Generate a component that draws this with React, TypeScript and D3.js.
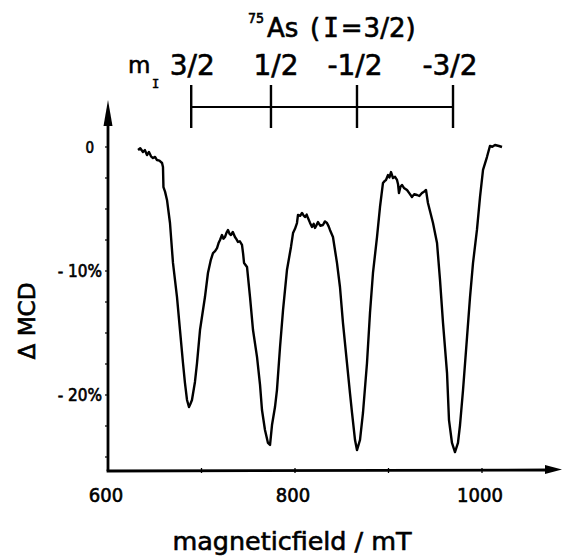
import React from 'react';
import * as d3 from 'd3';

// magnetic field (mT) and ΔMCD (%)
const fieldMT = [
  632.1, 634.5, 637.4, 639.5, 641.7, 643.8, 646.0, 648.1, 650.3, 652.4, 655.0, 657.8, 658.8,
  659.3, 661.0, 663.1, 666.3, 669.5, 673.8, 677.0, 680.2, 682.3, 684.5, 686.6, 688.2, 689.8,
  693.0, 695.2, 698.4, 703.7, 706.9, 710.0, 712.3, 714.5, 716.6, 718.5, 719.8, 721.9, 723.5,
  725.1, 726.8, 728.3, 730.0, 731.5, 733.5, 735.8, 737.5, 739.0, 741.0, 743.3, 744.5, 745.5,
  748.7, 751.9, 755.1, 759.4, 762.6, 764.7, 767.9, 771.1, 773.3, 775.4, 778.6, 780.7, 784.0,
  787.2, 791.4, 795.7, 797.9, 800.0, 802.1, 803.2, 805.5, 807.5, 809.0, 810.7, 812.5, 813.9,
  816.0, 818.2, 820.0, 821.4, 823.0, 824.6, 827.0, 829.9, 832.0, 834.2, 836.0, 837.4, 840.6,
  844.9, 848.1, 851.3, 855.6, 858.8, 861.0, 864.2, 866.3, 869.5, 872.7, 877.0, 880.2, 883.4,
  887.7, 890.9, 894.1, 895.8, 897.3, 899.5, 901.0, 902.7, 904.8, 907.0, 909.1, 910.2, 911.2,
  912.8, 914.4, 916.5, 919.8, 922.0, 925.1, 927.5, 930.5, 933.0, 935.8, 938.0, 940.1, 942.2,
  947.6, 951.9, 955.1, 958.3, 962.6, 964.7, 967.9, 971.1, 974.3, 976.5, 979.7, 984.0, 987.2,
  990.4, 994.6, 997.9, 1001.1, 1005.3, 1008.5, 1011.0, 1013.9, 1016.0, 1018.1, 1021.4,
];

const deltaMCD = [
  -0.24, -0.1, -0.40, -0.25, -0.65, -0.40, -0.75, -0.89, -0.80, -1.05, -1.10, -1.29, -1.61,
  -3.23, -3.60, -4.27, -6.13, -9.35, -12.10, -14.76, -17.42, -19.03, -20.40, -20.97, -20.70, -20.40,
  -18.95, -17.42, -14.76, -12.10, -10.16, -9.10, -8.55, -8.40, -8.15, -7.70, -7.50, -7.10, -7.40,
  -7.26, -6.90, -6.69, -7.00, -7.10, -6.85, -7.26, -7.45, -7.66, -7.60, -7.90, -8.60, -9.35,
  -9.68, -12.10, -14.76, -16.94, -19.19, -21.21, -22.82, -23.87, -24.03, -22.42, -20.97, -19.60, -16.13,
  -13.15, -9.92, -8.06, -6.94, -6.60, -6.13, -5.48, -5.55, -5.32, -5.50, -5.65, -5.45, -5.73,
  -6.10, -6.45, -6.20, -6.53, -6.30, -6.05, -6.35, -6.29, -6.00, -6.13, -6.40, -6.69, -7.26,
  -9.35, -11.29, -14.19, -17.42, -19.84, -21.45, -23.63, -24.44, -23.63, -21.45, -17.42, -13.39, -10.16,
  -7.26, -4.84, -2.90, -2.75, -2.66, -2.26, -2.45, -2.02, -2.50, -2.40, -2.66, -3.00, -3.71,
  -3.20, -3.06, -3.30, -3.47, -3.70, -4.03, -3.80, -3.87, -3.95, -3.71, -3.60, -3.47, -4.52,
  -6.13, -7.74, -10.73, -14.19, -18.23, -22.02, -23.87, -24.60, -23.87, -22.42, -19.60, -15.32, -12.10,
  -9.35, -6.69, -4.03, -1.85, -0.81, 0.08, 0.02, 0.16, 0.12, 0.08, 0.0,
];

const xTicks = [600, 800, 1000];
const xMinorTicks = [700, 800, 900, 1000];
const yTicks = [0, -10, -20];
const yTickLabels = ['0', '- 10%', '- 20%'];
const yMinorTicks = [0, -2.5, -5, -7.5, -10, -12.5, -15, -17.5, -20, -22.5, -25];
const mILabels = ['3/2', '1/2', '-1/2', '-3/2'];
const mIField = [689, 774.3, 866.3, 969];

const FONT = "'DejaVu Sans', 'Liberation Sans', sans-serif";
const FONT_C = "'DejaVu Sans Condensed', 'DejaVu Sans', sans-serif";
const FONT_M = "'DejaVu Sans Mono', monospace";

export default function App() {
  const W = 563;
  const H = 560;
  const x = d3.scaleLinear().domain([600, 1000]).range([108, 482]);
  const y = d3.scaleLinear().domain([0, -20]).range([147, 395]);

  const pts: [number, number][] = fieldMT.map((f, i) => [f, deltaMCD[i]]);
  const line = d3
    .line<[number, number]>()
    .x((d) => x(d[0]))
    .y((d) => y(d[1]))
    .curve(d3.curveLinear);

  const axisX0 = 108;
  const axisY0 = 471;
  const barY = 107;
  const bold = { stroke: '#000', strokeWidth: 0.6 };

  return (
    <svg
      width={W}
      height={H}
      viewBox={`0 0 ${W} ${H}`}
      style={{ position: 'absolute', left: 0, top: 0, background: '#fff' }}
    >
      <rect x={0} y={0} width={W} height={H} fill="#fff" />

      {/* Y axis */}
      <line x1={axisX0} y1={axisY0} x2={axisX0} y2={120} stroke="#000" strokeWidth={2.8} />
      <path d={`M${axisX0},100 L${axisX0 - 4.5},126 L${axisX0 + 4.5},126 Z`} fill="#000" />
      {yMinorTicks.map((t) => (
        <line key={'ym' + t} x1={axisX0 - 3} x2={axisX0} y1={y(t)} y2={y(t)} stroke="#000" strokeWidth={1.2} />
      ))}

      {/* X axis */}
      <line x1={axisX0 - 1.4} y1={axisY0} x2={550} y2={axisY0 - 1} stroke="#000" strokeWidth={2.8} />
      <path d={`M562,${axisY0 - 1.5} L545,${axisY0 - 6} L545,${axisY0 + 3} Z`} fill="#000" />
      {xMinorTicks.map((t) => (
        <line key={'xm' + t} x1={x(t)} x2={x(t)} y1={axisY0 - 3} y2={axisY0 + 2} stroke="#000" strokeWidth={1.3} />
      ))}

      {/* X tick labels */}
      {xTicks.map((t) => (
        <text key={'xt' + t} x={x(t) - 2} y={502} textAnchor="middle" fontFamily={FONT_C} fontSize={20} fill="#000" {...bold}>
          {t}
        </text>
      ))}

      {/* Y tick labels */}
      {yTicks.map((t, i) => (
        <text
          key={'yt' + t}
          x={i === 0 ? 94 : 102}
          y={y(t) + 6}
          textAnchor="end"
          fontFamily={FONT_C}
          fontSize={i === 0 ? 15 : 17}
          fill="#000"
          {...bold}
        >
          {yTickLabels[i]}
        </text>
      ))}

      {/* Axis titles */}
      <text
        x={292}
        y={550}
        textAnchor="middle"
        fontFamily={FONT}
        fontSize={24}
        textLength={239}
        lengthAdjust="spacingAndGlyphs"
        fill="#000"
        {...bold}
      >
        magneticfield / mT
      </text>
      <text
        transform="translate(35,321) rotate(-90)"
        textAnchor="middle"
        fontFamily={FONT}
        fontSize={23}
        textLength={77}
        lengthAdjust="spacingAndGlyphs"
        fill="#000"
        {...bold}
      >
        Δ MCD
      </text>

      {/* Top label */}
      <text x={248} y={23} fontFamily={FONT_C} fontSize={14} fill="#000" {...bold}>75</text>
      <text x={267} y={37} fontFamily={FONT} fontSize={26} fill="#000" {...bold}>As</text>
      <text x={310} y={37} fontFamily={FONT} fontSize={26} fill="#000" {...bold}>
        <tspan>(</tspan>
        <tspan fontFamily={FONT_M} dx={3}>I</tspan>
        <tspan dx={2}>=</tspan>
        <tspan dx={1}>3/2)</tspan>
      </text>

      {/* m_I row */}
      <text x={128} y={73} fontFamily={FONT} fontSize={23} fill="#000" {...bold}>m</text>
      <text x={152} y={88} fontFamily={FONT_M} fontSize={12} fill="#000" {...bold}>I</text>
      {mILabels.map((l, i) => (
        <text
          key={'ml' + i}
          x={x(mIField[i]) + (i === 1 ? 5 : i === 3 ? -3 : i === 2 ? -2 : 1)}
          y={75}
          textAnchor="middle"
          fontFamily={FONT}
          fontSize={28}
          fill="#000"
          {...bold}
        >
          {l}
        </text>
      ))}

      {/* stick diagram */}
      <line x1={x(mIField[0])} x2={x(mIField[3])} y1={barY} y2={barY} stroke="#000" strokeWidth={2.2} />
      {mIField.map((f, i) => (
        <line key={'mt' + i} x1={x(f)} x2={x(f)} y1={85} y2={128} stroke="#000" strokeWidth={2.4} />
      ))}

      {/* MCD trace */}
      <path d={line(pts) || ''} fill="none" stroke="#000" strokeWidth={2.4} strokeLinejoin="round" />
    </svg>
  );
}
